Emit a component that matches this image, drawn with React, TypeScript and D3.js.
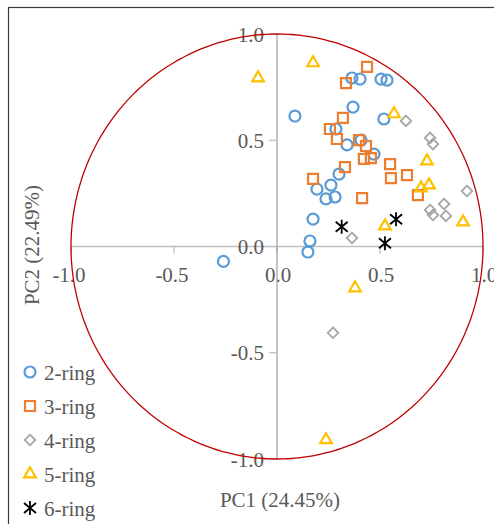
import { useEffect, useRef } from "react";
import * as d3 from "d3";

// loadings: [PC1, PC2]
const ring2: [number, number][] = [
  [-0.26, -0.07], [0.087, 0.614], [0.364, 0.793], [0.403, 0.788], [0.505, 0.788],
  [0.534, 0.783], [0.369, 0.656], [0.519, 0.6], [0.286, 0.553], [0.34, 0.478],
  [0.408, 0.501], [0.471, 0.435], [0.301, 0.341], [0.262, 0.289], [0.194, 0.27],
  [0.282, 0.233], [0.238, 0.224], [0.175, 0.129], [0.16, 0.026], [0.15, -0.026],
];
const ring3: [number, number][] = [
  [0.437, 0.845], [0.335, 0.769], [0.32, 0.605], [0.257, 0.553], [0.291, 0.506],
  [0.398, 0.501], [0.432, 0.473], [0.422, 0.412], [0.456, 0.416], [0.549, 0.388],
  [0.553, 0.322], [0.631, 0.336], [0.684, 0.242], [0.33, 0.374], [0.175, 0.318],
  [0.413, 0.228],
];
const ring4: [number, number][] = [
  [0.626, 0.591], [0.743, 0.511], [0.757, 0.482], [0.922, 0.261], [0.811, 0.2],
  [0.743, 0.172], [0.757, 0.148], [0.82, 0.144], [0.364, 0.04], [0.272, -0.406],
];
const ring5: [number, number][] = [
  [-0.092, 0.793], [0.175, 0.864], [0.568, 0.624], [0.728, 0.402], [0.738, 0.289],
  [0.699, 0.275], [0.903, 0.115], [0.524, 0.096], [0.379, -0.195], [0.238, -0.91],
];
const ring6: [number, number][] = [
  [0.314, 0.093], [0.578, 0.128], [0.524, 0.015],
];

const seriesNames = ["2-ring", "3-ring", "4-ring", "5-ring", "6-ring"];
const seriesData = [ring2, ring3, ring4, ring5, ring6];
const seriesColors = ["#5B9BD5", "#ED7D31", "#A5A5A5", "#FFC000", "#000000"];

const xTicks = [-1.0, -0.5, 0.0, 0.5, 1.0];
const yTicks = [-1.0, -0.5, 0.0, 0.5, 1.0];

const FONT = "'Liberation Serif', 'Times New Roman', serif";
const TEXT = "#595959";

function markerPath(i: number): string {
  if (i === 0) return d3.symbol(d3.symbolCircle, 95)()!;
  if (i === 1) return d3.symbol(d3.symbolSquare, 100)()!;
  if (i === 2) return "M0,-5.3L5.3,0L0,5.3L-5.3,0Z";
  if (i === 3) return d3.symbol(d3.symbolTriangle, 58)()!;
  // asterisk: vertical bar plus an X
  return "M0,-7L0,7M-6,-5L6,5M-6,5L6,-5";
}

function strokeFor(i: number) {
  return i === 4 ? 1.8 : i === 2 ? 1.8 : 2.2;
}

export default function App() {
  const ref = useRef<SVGSVGElement | null>(null);

  useEffect(() => {
    if (!ref.current) return;
    const width = 494;
    const height = 524;

    const svg = d3.select(ref.current)
      .attr("width", width)
      .attr("height", height);
    svg.selectAll("*").remove();

    // outer frame (right/bottom edges fall outside the picture)
    svg.append("rect")
      .attr("x", 8.5).attr("y", 7.5)
      .attr("width", 600).attr("height", 600)
      .attr("fill", "white")
      .attr("stroke", "#3a3a3a")
      .attr("stroke-width", 1.2);

    /* ---------------- SCALES ---------------- */
    const x = d3.scaleLinear().domain([-1, 1]).range([71, 483]);
    const y = d3.scaleLinear().domain([-1, 1]).range([459, 34]);

    /* ---------------- AXES (crossing at 0,0) ---------------- */
    const gx = svg.append("g").attr("transform", `translate(0,${y(0)})`);
    gx.append("line")
      .attr("x1", x(-1)).attr("x2", x(1))
      .attr("stroke", "#BFBFBF").attr("stroke-width", 1.3);
    gx.selectAll(".xt")
      .data(xTicks)
      .enter()
      .append("line")
      .attr("x1", d => x(d)).attr("x2", d => x(d))
      .attr("y1", 0).attr("y2", 7)
      .attr("stroke", "#BFBFBF").attr("stroke-width", 1.3);
    gx.selectAll(".xl")
      .data(xTicks)
      .enter()
      .append("text")
      .attr("x", d => x(d) + (d < 0 ? -2 : 1))
      .attr("y", 35)
      .attr("text-anchor", "middle")
      .attr("font-family", FONT)
      .attr("font-size", 21)
      .attr("fill", TEXT)
      .text(d => (d < 0 ? "-" : "") + Math.abs(d).toFixed(1));

    const gy = svg.append("g").attr("transform", `translate(${x(0)},0)`);
    gy.append("line")
      .attr("y1", y(1)).attr("y2", y(-1))
      .attr("stroke", "#A6A6A6").attr("stroke-width", 1.3);
    gy.selectAll(".yt")
      .data(yTicks)
      .enter()
      .append("line")
      .attr("x1", -8).attr("x2", 0)
      .attr("y1", d => y(d)).attr("y2", d => y(d))
      .attr("stroke", "#BFBFBF").attr("stroke-width", 1.3);
    gy.selectAll(".yl")
      .data(yTicks)
      .enter()
      .append("text")
      .attr("x", -13)
      .attr("y", d => y(d) + 7.5)
      .attr("text-anchor", "end")
      .attr("font-family", FONT)
      .attr("font-size", 21)
      .attr("fill", TEXT)
      .text(d => (d < 0 ? "-" : "") + Math.abs(d).toFixed(1));

    /* ---------------- UNIT CIRCLE ---------------- */
    const angles = d3.range(0, 360, 2).map(a => (a * Math.PI) / 180);
    const circle = d3.line<number>()
      .x(a => x(Math.cos(a)))
      .y(a => y(Math.sin(a)))
      .curve(d3.curveCardinalClosed);
    svg.append("path")
      .datum(angles)
      .attr("d", circle)
      .attr("fill", "none")
      .attr("stroke", "#C00000")
      .attr("stroke-width", 1.3);

    /* ---------------- POINTS ---------------- */
    seriesData.forEach((pts, i) => {
      svg.append("g")
        .selectAll("path")
        .data(pts)
        .enter()
        .append("path")
        .attr("transform", d => `translate(${x(d[0])},${y(d[1])})`)
        .attr("d", markerPath(i))
        .attr("fill", "none")
        .attr("stroke", seriesColors[i])
        .attr("stroke-width", strokeFor(i));
    });

    /* ---------------- AXIS TITLES ---------------- */
    svg.append("text")
      .attr("x", 280).attr("y", 507)
      .attr("text-anchor", "middle")
      .attr("font-family", FONT).attr("font-size", 21)
      .attr("fill", TEXT)
      .text("PC1 (24.45%)");
    svg.append("text")
      .attr("transform", "translate(39,245) rotate(-90)")
      .attr("text-anchor", "middle")
      .attr("font-family", FONT).attr("font-size", 21)
      .attr("fill", TEXT)
      .text("PC2 (22.49%)");

    /* ---------------- LEGEND ---------------- */
    const legend = svg.append("g");
    seriesNames.forEach((name, i) => {
      const ly = 372 + i * 34;
      legend.append("path")
        .attr("transform", `translate(30,${ly})`)
        .attr("d", markerPath(i))
        .attr("fill", "none")
        .attr("stroke", seriesColors[i])
        .attr("stroke-width", strokeFor(i));
      legend.append("text")
        .attr("x", 44).attr("y", ly + 7.5)
        .attr("font-family", FONT).attr("font-size", 21)
        .attr("fill", TEXT)
        .text(name);
    });
  }, []);

  return (
    <svg
      ref={ref}
      style={{ position: "absolute", left: 0, top: 0, display: "block" }}
    />
  );
}
